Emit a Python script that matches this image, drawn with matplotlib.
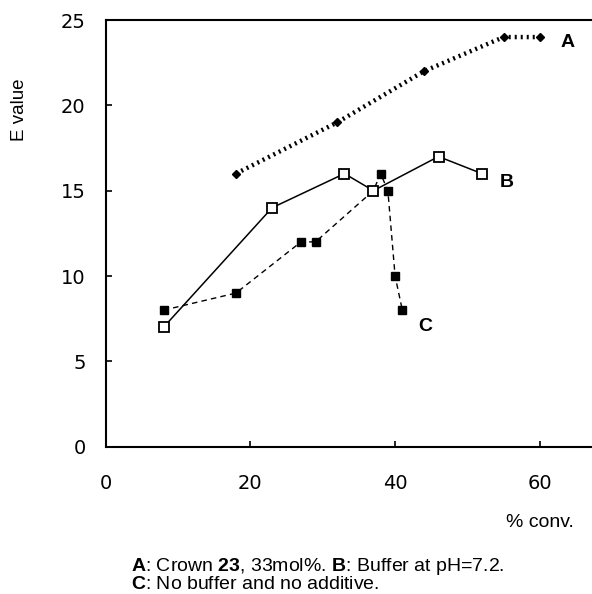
import matplotlib
matplotlib.use("Agg")
import matplotlib.pyplot as plt

# % conversion vs E value, three runs
a_conv = [18, 32, 44, 55, 60]
a_e = [16, 19, 22, 24, 24]

b_conv = [8, 23, 33, 37, 46, 52]
b_e = [7, 14, 16, 15, 17, 16]

c_conv = [8, 18, 27, 29, 37, 38, 39, 40, 41]
c_e = [8, 9, 12, 12, 15, 16, 15, 10, 8]

x_ticks = [0, 20, 40, 60]
y_ticks = [0, 5, 10, 15, 20, 25]

plt.rcParams["mathtext.fontset"] = "custom"
plt.rcParams["mathtext.rm"] = "Liberation Sans"
plt.rcParams["mathtext.bf"] = "Liberation Sans:bold"

fig = plt.figure(figsize=(5.92, 5.94), dpi=100)
ax = fig.add_axes([105.7 / 592, 1 - 446.7 / 594, 1 - 105.7 / 592, (446.7 - 20) / 594])

ax.plot(a_conv, a_e, color="black", lw=3.2, linestyle=(0, (0.45, 0.9)),
        marker="D", markersize=4, markerfacecolor="black", markeredgecolor="black")
ax.plot(c_conv, c_e, color="black", lw=1.0, linestyle=(0, (4, 3)),
        marker="s", markersize=5.5, markerfacecolor="black", markeredgecolor="black",
        zorder=2)
# open squares drawn over the C run where they meet at 37 %
ax.plot(b_conv, b_e, color="black", lw=1.1, linestyle="-",
        marker="s", markersize=7, markerfacecolor="white", markeredgecolor="black",
        markeredgewidth=1.3, zorder=3)

ax.set_xlim(0, (592 - 105.7) / 7.235)
ax.set_ylim(0, 25)
ax.set_xticks(x_ticks)
ax.set_yticks(y_ticks)

for side in ["left", "bottom", "top"]:
    ax.spines[side].set_linewidth(1.5)
ax.spines["right"].set_visible(False)

ax.tick_params(axis="both", direction="in", length=4, width=1.2,
               labelsize=14, labelfontfamily="DejaVu Sans")
ax.tick_params(axis="x", pad=20)
ax.tick_params(axis="y", pad=14.5)

ax.text(63.9, 23.7, "A", fontsize=14, fontweight="bold", family="Liberation Sans",
        ha="center", va="center")
ax.text(55.5, 15.5, "B", fontsize=14, fontweight="bold", family="Liberation Sans",
        ha="center", va="center")
ax.text(44.1, 7.07, "C", fontsize=14, fontweight="bold", family="Liberation Sans",
        ha="center", va="center")

fig.text(19 / 592, 1 - 110 / 594, "E value", rotation=90, fontsize=13.5,
         family="Liberation Sans", ha="center", va="center")
fig.text(540 / 592, 1 - 526.7 / 594, "% conv.", fontsize=14,
         family="Liberation Sans", ha="center", va="baseline")

fig.text(130.7 / 592, 1 - 571 / 594,
         r"$\mathbf{A}$: Crown $\mathbf{23}$, 33mol%. $\mathbf{B}$: Buffer at pH=7.2.",
         fontsize=14, family="Liberation Sans", ha="left", va="baseline")
fig.text(130.7 / 592, 1 - 589.3 / 594,
         r"$\mathbf{C}$: No buffer and no additive.",
         fontsize=14, family="Liberation Sans", ha="left", va="baseline")

fig.savefig("out.png", dpi=100)
